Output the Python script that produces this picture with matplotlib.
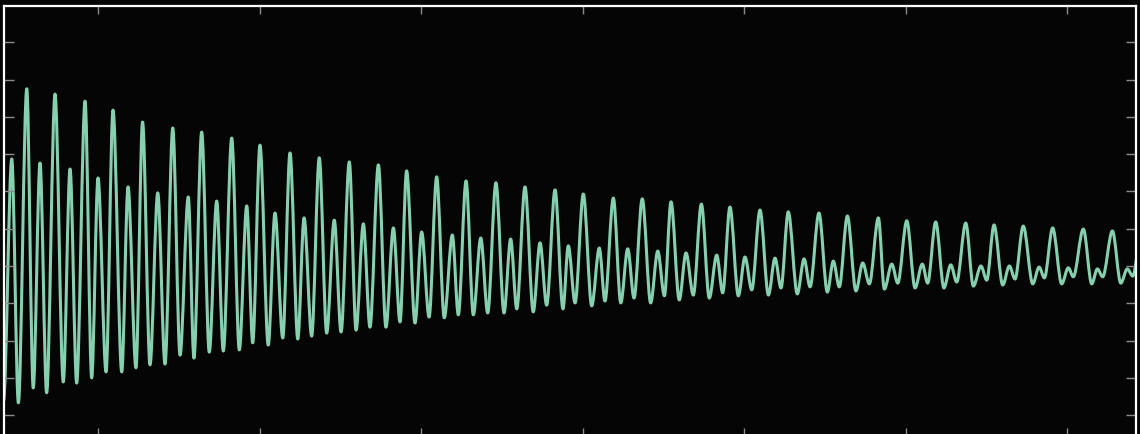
import numpy as np
import matplotlib
matplotlib.use("Agg")
import matplotlib.pyplot as plt
from matplotlib.path import Path
from matplotlib.patches import PathPatch

# Extrema of the damped signal (time, amplitude)
peak_t = [-0.441, -0.266, -0.080, 0.093, 0.276, 0.463, 0.642, 0.828, 1.003, 1.189,
          1.370, 1.556, 1.736, 1.911, 2.097, 2.279, 2.464, 2.644, 2.830, 3.005,
          3.191, 3.370, 3.548, 3.736, 3.913, 4.099, 4.274, 4.464, 4.640, 4.832,
          5.008, 5.187, 5.373, 5.548, 5.729, 5.911, 6.101, 6.281, 6.461]
peak_v = [4.75, 4.61, 4.42, 4.18, 3.86, 3.70, 3.59, 3.43, 3.24, 3.03,
          2.90, 2.79, 2.71, 2.55, 2.39, 2.28, 2.23, 2.12, 2.04, 1.93,
          1.82, 1.80, 1.72, 1.66, 1.58, 1.50, 1.45, 1.42, 1.34, 1.29,
          1.21, 1.18, 1.15, 1.10, 1.07, 1.02, 0.99, 0.94, 0.91]

bump_t = [-0.534, -0.359, -0.173, 0.000, 0.186, 0.370, 0.559, 0.735, 0.921, 1.096,
          1.276, 1.463, 1.643, 1.829, 2.004, 2.194, 2.370, 2.555, 2.737, 2.912,
          3.104, 3.280, 3.466, 3.641, 3.831, 4.006, 4.192, 4.372, 4.553, 4.735,
          4.915, 5.104, 5.280, 5.467, 5.643, 5.827, 6.008, 6.188, 6.373]
bump_v = [2.87, 2.76, 2.60, 2.36, 2.12, 1.96, 1.85, 1.74, 1.61, 1.42,
          1.29, 1.23, 1.13, 1.02, 0.91, 0.83, 0.75, 0.72, 0.62, 0.54,
          0.48, 0.46, 0.40, 0.35, 0.29, 0.24, 0.21, 0.19, 0.13, 0.08,
          0.05, 0.05, 0.03, 0.00, 0.00, -0.03, -0.05, -0.08, -0.08]

dip_t = [-0.585, -0.493, -0.401, -0.318, -0.215, -0.132, -0.039, 0.050, 0.147, 0.235,
         0.322, 0.415, 0.508, 0.594, 0.689, 0.776, 0.875, 0.958, 1.054, 1.144,
         1.237, 1.323, 1.416, 1.505, 1.598, 1.684, 1.783, 1.870, 1.963, 2.050,
         2.144, 2.231, 2.324, 2.413, 2.514, 2.593, 2.695, 2.778, 2.879, 2.954,
         3.057, 3.139, 3.237, 3.319, 3.422, 3.507, 3.599, 3.686, 3.785, 3.868,
         3.965, 4.048, 4.151, 4.229, 4.330, 4.409, 4.516, 4.590, 4.693, 4.776,
         4.869, 4.952, 5.059, 5.137, 5.238, 5.317, 5.420, 5.503, 5.602, 5.678,
         5.788, 5.860, 5.967, 6.039, 6.153, 6.221, 6.333, 6.407]
dip_v = [-3.62, -3.67, -3.27, -3.40, -3.11, -3.14, -3.00, -2.84, -2.84, -2.73,
         -2.65, -2.63, -2.39, -2.47, -2.31, -2.28, -2.25, -2.06, -2.12, -1.93,
         -1.96, -1.88, -1.80, -1.77, -1.72, -1.64, -1.64, -1.50, -1.53, -1.37,
         -1.39, -1.31, -1.31, -1.26, -1.26, -1.15, -1.23, -1.05, -1.15, -0.99,
         -1.07, -0.94, -0.99, -0.86, -0.99, -0.80, -0.91, -0.78, -0.86, -0.72,
         -0.80, -0.64, -0.78, -0.59, -0.75, -0.56, -0.70, -0.56, -0.67, -0.48,
         -0.62, -0.46, -0.59, -0.46, -0.59, -0.43, -0.54, -0.38, -0.51, -0.35,
         -0.48, -0.32, -0.48, -0.29, -0.48, -0.29, -0.46, -0.27]

x_ticks = [0, 1, 2, 3, 4, 5, 6]
y_ticks = [-4, -3, -2, -1, 0, 1, 2, 3, 4, 5, 6]

bg = '#050505'
line_color = '#86d0b0'

# merge all extrema in time order
t = np.concatenate([peak_t, bump_t, dip_t])
v = np.concatenate([peak_v, bump_v, dip_v])
order = np.argsort(t)
t, v = t[order], v[order]

# smooth curve through the extrema: cubic segments with flat tangents
verts = [(t[0], v[0])]
codes = [Path.MOVETO]
for i in range(len(t) - 1):
    d = t[i + 1] - t[i]
    verts += [(t[i] + d / 3, v[i]), (t[i + 1] - d / 3, v[i + 1]), (t[i + 1], v[i + 1])]
    codes += [Path.CURVE4] * 3

fig = plt.figure(figsize=(11.4, 4.34), dpi=100, facecolor=bg)
ax = fig.add_axes([4 / 1140, -2 / 434, 1131.5 / 1140, 430.3 / 434])
ax.set_facecolor(bg)

ax.add_patch(PathPatch(Path(verts, codes), facecolor='none', edgecolor=line_color,
                       lw=2.2, capstyle='round', joinstyle='round'))

ax.set_xlim(-0.582, 6.424)
ax.set_ylim(-4.56, 6.98)
ax.set_xticks(x_ticks)
ax.set_yticks(y_ticks)
ax.tick_params(axis='x', direction='in', top=True, bottom=True, length=5.8,
               width=1.0, color='#8c8c8c', labelbottom=False)
ax.tick_params(axis='y', direction='in', left=True, right=True, length=7.5,
               width=1.0, color='#8c8c8c', labelleft=False)
for s in ax.spines.values():
    s.set_color('white')
    s.set_linewidth(1.6)

fig.savefig('out.png', dpi=100, facecolor=bg)
